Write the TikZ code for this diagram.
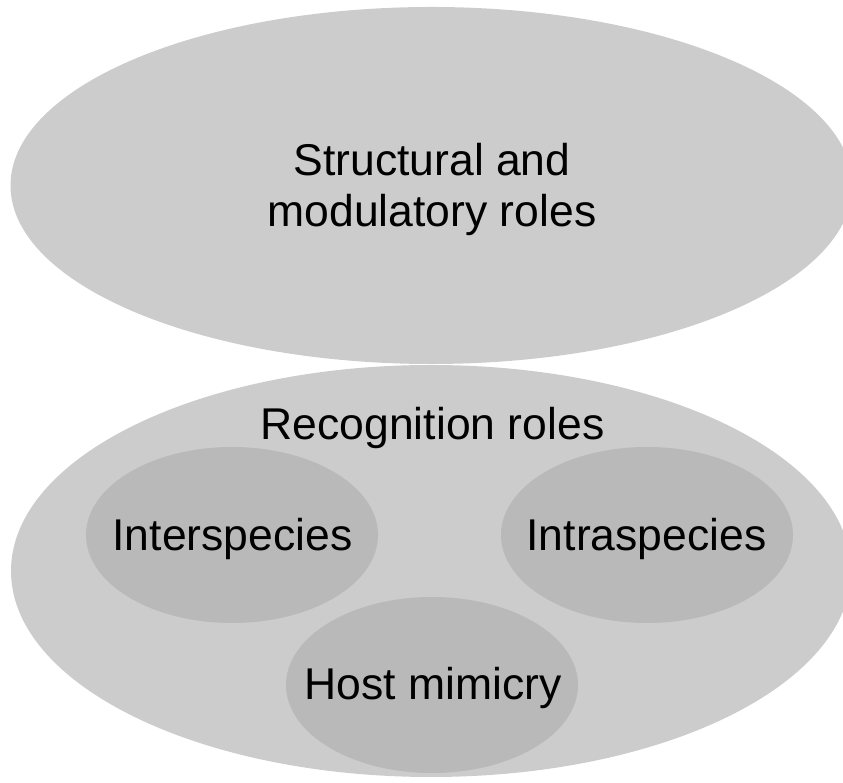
\documentclass[tikz,border=0pt]{standalone}
\usepackage{fontspec}
\setmainfont{Liberation Sans}
\usetikzlibrary{shapes.geometric}
\definecolor{outerfill}{RGB}{204,204,204}
\definecolor{innerfill}{RGB}{185,185,185}
\begin{document}
\begin{tikzpicture}[x=1pt,y=1pt,
  blob/.style={ellipse,draw=none,inner sep=0pt,outer sep=0pt},
  outerblob/.style={blob,fill=outerfill},
  innerblob/.style={blob,fill=innerfill,minimum width=292pt,minimum height=176pt},
  label/.style={anchor=base,inner sep=0pt,text=black,align=center,
    font=\fontsize{44.5}{51}\selectfont}]
\useasboundingbox (0,0) rectangle (843,783);
\clip (0,0) rectangle (843,783);
% the two large groups
\node[outerblob,minimum width=842pt,minimum height=357pt] (structural) at (431.5,597.5) {};
\node[outerblob,minimum width=840pt,minimum height=412pt] (recognition) at (431,212) {};
% the three kinds of recognition
\node[innerblob] (inter) at (232,248) {};
\node[innerblob] (intra) at (647,248) {};
\node[innerblob] (host) at (432,98) {};
% labels (a two-line label sits on the baseline of its last line)
\node[label] (structuraltext) at (432,556) {Structural and\\modulatory roles};
\node[label] (recognitiontext) at (432.5,343) {Recognition roles};
\node[label] (intertext) at (232.5,232) {Interspecies};
\node[label] (intratext) at (646.5,232) {Intraspecies};
\node[label] (hosttext) at (433,83) {Host mimicry};
\end{tikzpicture}
\end{document}
